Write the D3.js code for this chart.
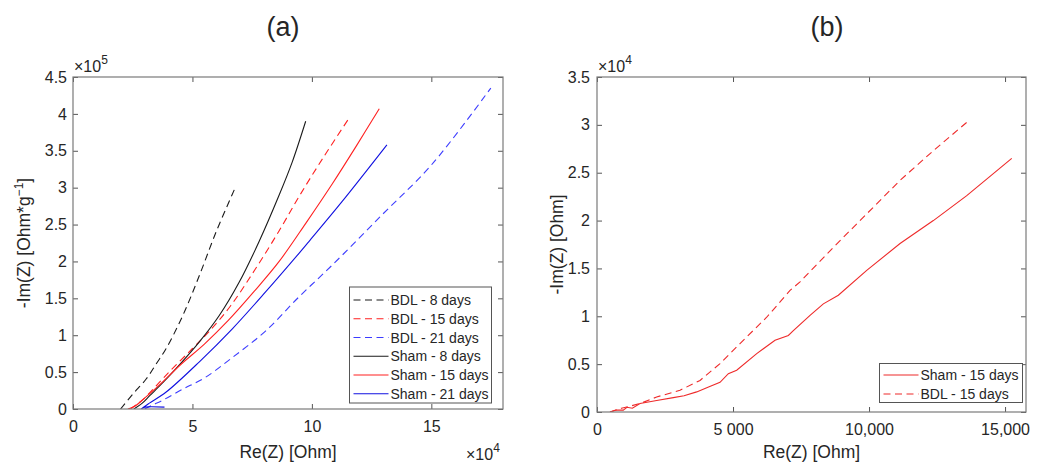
<!DOCTYPE html>
<html>
<head>
<meta charset="utf-8">
<script src="https://cdn.jsdelivr.net/npm/d3@7/dist/d3.min.js"></script>
<style>
  html, body { margin: 0; padding: 0; background: #fff; }
  svg { display: block; font-family: "Liberation Sans", Arial, Helvetica, sans-serif; }
  text { fill: #262626; }
</style>
</head>
<body>
<svg id="chart" width="1048" height="464"></svg>
<script>
// ---------------- DATA ----------------
// Panel (a): x in units of 1e4 Ohm, y in units of 1e5 Ohm*g^-1
const aSeriesNames = ["BDL - 8 days", "BDL - 15 days", "BDL - 21 days", "Sham - 8 days", "Sham - 15 days", "Sham - 21 days"];
const aBDL8X  = [1.99, 2.5, 3.07, 3.5, 3.90, 4.60, 5.29, 5.99, 6.75];
const aBDL8Y  = [0.00, 0.20, 0.41, 0.62, 0.82, 1.27, 1.81, 2.40, 2.97];
const aBDL15X = [2.4, 2.9, 3.9, 5.0, 5.7, 6.6, 7.6, 8.6, 9.5, 10.5, 11.51];
const aBDL15Y = [0.0, 0.12, 0.46, 0.82, 1.05, 1.40, 1.88, 2.40, 2.90, 3.42, 3.92];
const aBDL21X = [3.0, 3.3, 3.7, 4.6, 5.5, 6.68, 8.07, 9.46, 10.85, 12.93, 15.01, 17.49];
const aBDL21Y = [0.0, 0.05, 0.11, 0.27, 0.42, 0.70, 1.06, 1.52, 1.95, 2.63, 3.31, 4.35];
const aSham8X  = [2.55, 2.9, 3.21, 3.8, 4.32, 5.29, 6.13, 6.96, 7.79, 8.63, 9.18, 9.74];
const aSham8Y  = [0.00, 0.08, 0.18, 0.37, 0.55, 0.91, 1.27, 1.72, 2.27, 2.90, 3.35, 3.90];
const aSham15X = [2.3, 2.6, 2.9, 3.6, 4.5, 5.5, 6.5, 7.6, 8.63, 9.75, 10.85, 11.85, 12.82];
const aSham15Y = [0.0, 0.04, 0.12, 0.32, 0.60, 0.88, 1.20, 1.60, 2.00, 2.52, 3.05, 3.56, 4.07];
const aSham21X = [3.83, 3.0, 2.85, 3.2, 3.90, 5.29, 6.68, 8.07, 9.46, 9.875, 11.26, 13.14];
const aSham21Y = [0.025, 0.025, 0.0, 0.08, 0.23, 0.64, 1.09, 1.59, 2.11, 2.27, 2.81, 3.58];
const aXTicks = [0, 5, 10, 15];
const aXTickLabels = ["0", "5", "10", "15"];
const aYTicks = [0, 0.5, 1, 1.5, 2, 2.5, 3, 3.5, 4, 4.5];
const aYTickLabels = ["0", "0.5", "1", "1.5", "2", "2.5", "3", "3.5", "4", "4.5"];

// Panel (b): x in Ohm, y in units of 1e4 Ohm
const bSeriesNames = ["Sham - 15 days", "BDL - 15 days"];
const bSham15X = [478, 700, 967, 1100, 1300, 1581, 2194, 2806, 3200, 3664, 4100, 4522, 4828, 5135, 5871, 6544, 7034, 7218, 7831, 8320, 8872, 9915, 11140, 12364, 13592, 15246];
const bSham15Y = [0.0, 0.02, 0.02, 0.05, 0.04, 0.088, 0.12, 0.15, 0.17, 0.21, 0.26, 0.31, 0.40, 0.436, 0.61, 0.75, 0.80, 0.85, 1.01, 1.13, 1.22, 1.48, 1.76, 2.00, 2.26, 2.65];
const bBDL15X = [478, 900, 1200, 1600, 2194, 3051, 3787, 4522, 5257, 6238, 7096, 7463, 8688, 9915, 11140, 12364, 13713];
const bBDL15Y = [0.0, 0.04, 0.06, 0.09, 0.157, 0.227, 0.33, 0.506, 0.715, 0.99, 1.27, 1.36, 1.72, 2.07, 2.42, 2.73, 3.055];
const bXTicks = [0, 5000, 10000, 15000];
const bXTickLabels = ["0", "5 000", "10,000", "15,000"];
const bYTicks = [0, 0.5, 1, 1.5, 2, 2.5, 3, 3.5];
const bYTickLabels = ["0", "0.5", "1", "1.5", "2", "2.5", "3", "3.5"];

// ---------------- DRAW ----------------
const svg = d3.select("#chart");
const zip = (xs, ys) => xs.map((x, i) => [x, ys[i]]);

function drawPanel(p) {
  const g = svg.append("g");
  const x = d3.scaleLinear().domain(p.xDomain).range([p.left, p.right]);
  const y = d3.scaleLinear().domain(p.yDomain).range([p.bottom, p.top]);

  const xFmt = (d) => p.xLabels[p.xTicks.indexOf(d)];
  const yFmt = (d) => p.yLabels[p.yTicks.indexOf(d)];
  const axB = g.append("g").attr("transform", `translate(0,${p.bottom})`)
    .call(d3.axisBottom(x).tickValues(p.xTicks).tickFormat(xFmt).tickSizeInner(-5).tickSizeOuter(0).tickPadding(12));
  const axT = g.append("g").attr("transform", `translate(0,${p.top})`)
    .call(d3.axisTop(x).tickValues(p.xTicks).tickFormat("").tickSizeInner(-5).tickSizeOuter(0));
  const axL = g.append("g").attr("transform", `translate(${p.left},0)`)
    .call(d3.axisLeft(y).tickValues(p.yTicks).tickFormat(yFmt).tickSizeInner(-5).tickSizeOuter(0).tickPadding(p.yPad));
  const axR = g.append("g").attr("transform", `translate(${p.right},0)`)
    .call(d3.axisRight(y).tickValues(p.yTicks).tickFormat("").tickSizeInner(-5).tickSizeOuter(0));
  [axB, axT, axL, axR].forEach(a => {
    a.select(".domain").remove();
    a.selectAll("line").attr("stroke", "#555");
    a.selectAll("text").attr("font-size", 16).attr("fill", "#262626")
      .attr("font-family", '"Liberation Sans", Arial, sans-serif');
  });

  const clipId = "clip" + p.id;
  svg.append("clipPath").attr("id", clipId).append("rect")
    .attr("x", p.left).attr("y", p.top).attr("width", p.right - p.left).attr("height", p.bottom - p.top);

  const line = d3.line().x(d => x(d[0])).y(d => y(d[1])).curve(p.curve);
  const lines = g.append("g").attr("clip-path", `url(#${clipId})`);
  p.series.forEach(s => {
    lines.append("path").datum(s.data)
      .attr("fill", "none").attr("stroke", s.color).attr("stroke-width", 1.1)
      .attr("stroke-dasharray", s.dash ? "7,4.5" : null)
      .attr("d", line);
  });

  g.append("rect").attr("x", p.left).attr("y", p.top)
    .attr("width", p.right - p.left).attr("height", p.bottom - p.top)
    .attr("fill", "none").attr("stroke", "#7a7a7a").attr("stroke-width", 1.2);

  g.append("text").attr("x", p.titleX).attr("y", 36).attr("text-anchor", "middle")
    .attr("font-size", 27).text(p.title);

  g.append("text").attr("x", (p.left + p.right) / 2).attr("y", 458).attr("text-anchor", "middle")
    .attr("font-size", 17.5).text("Re(Z) [Ohm]");
  const yl = g.append("text").attr("transform", `translate(${p.yLabelX},${(p.top + p.bottom) / 2}) rotate(-90)`)
    .attr("text-anchor", "middle").attr("font-size", 17.5);
  yl.append("tspan").text(p.yLabel);
  if (p.yLabelSup) {
    yl.append("tspan").attr("dy", -7).attr("font-size", 12).text(p.yLabelSup);
    yl.append("tspan").attr("dy", 7).text("]");
  }

  p.exps.forEach(e => {
    const t = g.append("text").attr("x", e.x).attr("y", e.y).attr("font-size", 16).attr("fill", "#555");
    t.append("tspan").text("\u00d710");
    t.append("tspan").attr("dy", -8).attr("font-size", 12).text(e.pow);
  });

  const L = p.legend;
  g.append("rect").attr("x", L.x).attr("y", L.y).attr("width", L.w).attr("height", L.h)
    .attr("fill", "#fff").attr("stroke", "#555").attr("stroke-width", 1);
  L.order.forEach((si, i) => {
    const s = p.series[si];
    const cy = L.row0 + i * L.step;
    g.append("line").attr("x1", L.x + 4).attr("x2", L.x + 39).attr("y1", cy).attr("y2", cy)
      .attr("stroke", s.color).attr("stroke-width", 1.1).attr("stroke-dasharray", s.dash ? "7,4.5" : null);
    g.append("text").attr("x", L.x + 41).attr("y", cy + 5).attr("font-size", 14).text(s.name);
  });
}

drawPanel({
  id: "a", title: "(a)", titleX: 283,
  left: 73, right: 503, top: 77, bottom: 409,
  xDomain: [0, 18], yDomain: [0, 4.5],
  xTicks: aXTicks, xLabels: aXTickLabels, yTicks: aYTicks, yLabels: aYTickLabels, yPad: 6,
  yLabelX: 30, yLabel: "-Im(Z) [Ohm*g", yLabelSup: "\u22121",
  exps: [{ x: 74, y: 72, pow: "5" }, { x: 466, y: 460, pow: "4" }],
  curve: d3.curveCatmullRom.alpha(0.5),
  series: [
    { name: aSeriesNames[0], color: "#1a1a1a", dash: true,  data: zip(aBDL8X, aBDL8Y) },
    { name: aSeriesNames[1], color: "#ff2020", dash: true,  data: zip(aBDL15X, aBDL15Y) },
    { name: aSeriesNames[2], color: "#3c3cff", dash: true,  data: zip(aBDL21X, aBDL21Y) },
    { name: aSeriesNames[3], color: "#1a1a1a", dash: false, data: zip(aSham8X, aSham8Y) },
    { name: aSeriesNames[4], color: "#ff2020", dash: false, data: zip(aSham15X, aSham15Y) },
    { name: aSeriesNames[5], color: "#1010e0", dash: false, data: zip(aSham21X, aSham21Y) }
  ],
  legend: { x: 349.5, y: 287, w: 142, h: 116, row0: 300, step: 18.75, order: [0, 1, 2, 3, 4, 5] }
});

drawPanel({
  id: "b", title: "(b)", titleX: 827,
  left: 597, right: 1026, top: 77, bottom: 412,
  xDomain: [0, 15770], yDomain: [0, 3.5],
  xTicks: bXTicks, xLabels: bXTickLabels, yTicks: bYTicks, yLabels: bYTickLabels, yPad: 7,
  yLabelX: 563, yLabel: "-Im(Z) [Ohm]", yLabelSup: null,
  exps: [{ x: 598, y: 72, pow: "4" }],
  curve: d3.curveLinear,
  series: [
    { name: bSeriesNames[0], color: "#ee2a2a", dash: false, data: zip(bSham15X, bSham15Y) },
    { name: bSeriesNames[1], color: "#ee2a2a", dash: true,  data: zip(bBDL15X, bBDL15Y) }
  ],
  legend: { x: 879.5, y: 363.5, w: 143, h: 39, row0: 375, step: 19, order: [0, 1] }
});
</script>
</body>
</html>
